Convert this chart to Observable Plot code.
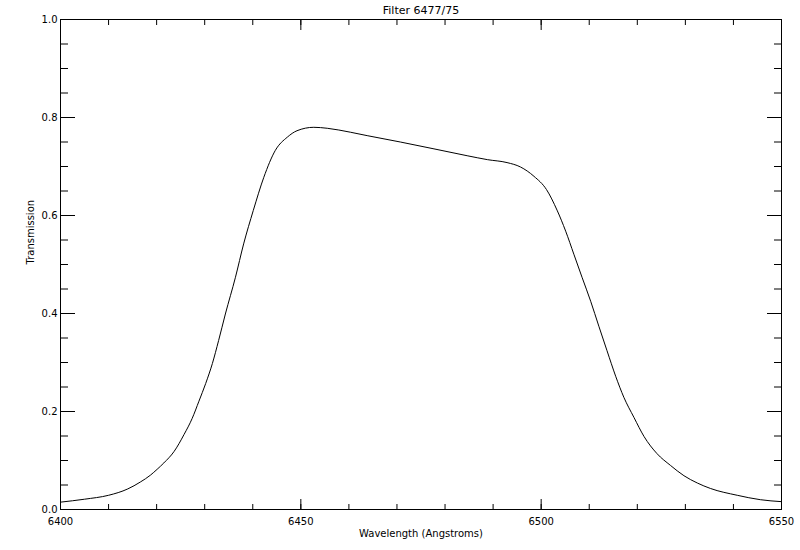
<!DOCTYPE html>
<html>
<head>
<meta charset="utf-8">
<script src="https://cdn.jsdelivr.net/npm/d3@7"></script>
<script src="https://cdn.jsdelivr.net/npm/@observablehq/plot@0.6"></script>
<style>
  html, body { margin: 0; padding: 0; background: #fff; }
  #chart svg { display: block; }
</style>
</head>
<body>
<div id="chart"></div>
<script>
const title = "Filter 6477/75";
const xLabel = "Wavelength (Angstroms)";
const yLabel = "Transmission";

const wavelength = [
  6400, 6405, 6410, 6414, 6416.6, 6418.7, 6420.1, 6421.5, 6423.6, 6425.7,
  6427.4, 6428.8, 6430.2, 6431.6, 6432.9, 6434.3, 6436.4, 6438.1, 6440.1, 6442.3,
  6444.7, 6447.2, 6449.2, 6452.7, 6455.5, 6460.3, 6463.8, 6470.7, 6477.7, 6484.6,
  6488.8, 6492.9, 6495.7, 6498.5, 6501.1, 6503.3, 6505.1, 6506.8, 6508.5, 6510.3,
  6512.0, 6513.7, 6515.5, 6517.2, 6519.3, 6521.4, 6524.1, 6526.9, 6529.7, 6532.5,
  6535.2, 6540.8, 6545.6, 6550
];
const transmission = [
  0.015, 0.021, 0.029, 0.042, 0.056, 0.070, 0.082, 0.095, 0.118, 0.153,
  0.186, 0.221, 0.257, 0.298, 0.345, 0.399, 0.474, 0.542, 0.610, 0.678,
  0.733, 0.760, 0.773, 0.780, 0.778, 0.770, 0.763, 0.750, 0.736, 0.722,
  0.714, 0.708, 0.699, 0.680, 0.653, 0.611, 0.568, 0.521, 0.474, 0.425,
  0.374, 0.324, 0.272, 0.229, 0.188, 0.149, 0.114, 0.090, 0.069, 0.054,
  0.043, 0.029, 0.020, 0.016
];

const xMajor = [6400, 6450, 6500, 6550];
const xMinor = d3.range(6400, 6551, 10);
const yMajor = [0, 0.2, 0.4, 0.6, 0.8, 1.0];
const yMinor = d3.range(0, 21).map(i => i * 0.05);

const data = wavelength.map((w, i) => ({w, t: transmission[i]}));

const font = "'DejaVu Sans', sans-serif";
const common = {label: null, fill: "none", stroke: "black"};

const plot = Plot.plot({
  width: 800,
  height: 550,
  marginLeft: 60,
  marginRight: 19,
  marginTop: 19,
  marginBottom: 41,
  style: {fontFamily: font, fontSize: "10px", background: "white", color: "black"},
  x: {domain: [6400, 6550]},
  y: {domain: [0, 1]},
  marks: [
    // tick marks (inward) on all four sides
    Plot.axisX(xMinor, {...common, anchor: "bottom", tickSize: -5}),
    Plot.axisX(xMajor, {...common, anchor: "bottom", tickSize: -10}),
    Plot.axisX(xMinor, {...common, anchor: "top", tickSize: -5}),
    Plot.axisX(xMajor, {...common, anchor: "top", tickSize: -10}),
    Plot.axisY(yMinor, {...common, anchor: "left", tickSize: -8}),
    Plot.axisY(yMajor, {...common, anchor: "left", tickSize: -15}),
    Plot.axisY(yMinor, {...common, anchor: "right", tickSize: -8}),
    Plot.axisY(yMajor, {...common, anchor: "right", tickSize: -15}),
    // tick labels
    Plot.axisX(xMajor, {anchor: "bottom", label: null, tickSize: 0, tickPadding: 8, tickFormat: d => String(d)}),
    Plot.axisY(yMajor, {anchor: "left", label: null, tickSize: 0, tickPadding: 3, tickFormat: d => d.toFixed(1)}),
    Plot.frame({stroke: "black", strokeWidth: 1}),
    Plot.line(data, {x: "w", y: "t", stroke: "black", strokeWidth: 1, curve: "monotone-x"}),
    // titles
    Plot.text([title], {frameAnchor: "top", dy: -13, fontSize: 11, fill: "black"}),
    Plot.text([xLabel], {frameAnchor: "bottom", dy: 27, fontSize: 10, fill: "black"}),
    Plot.text([yLabel], {frameAnchor: "left", dx: -30, rotate: -90, fontSize: 10, fill: "black"})
  ]
});

document.getElementById("chart").appendChild(plot);
</script>
</body>
</html>
